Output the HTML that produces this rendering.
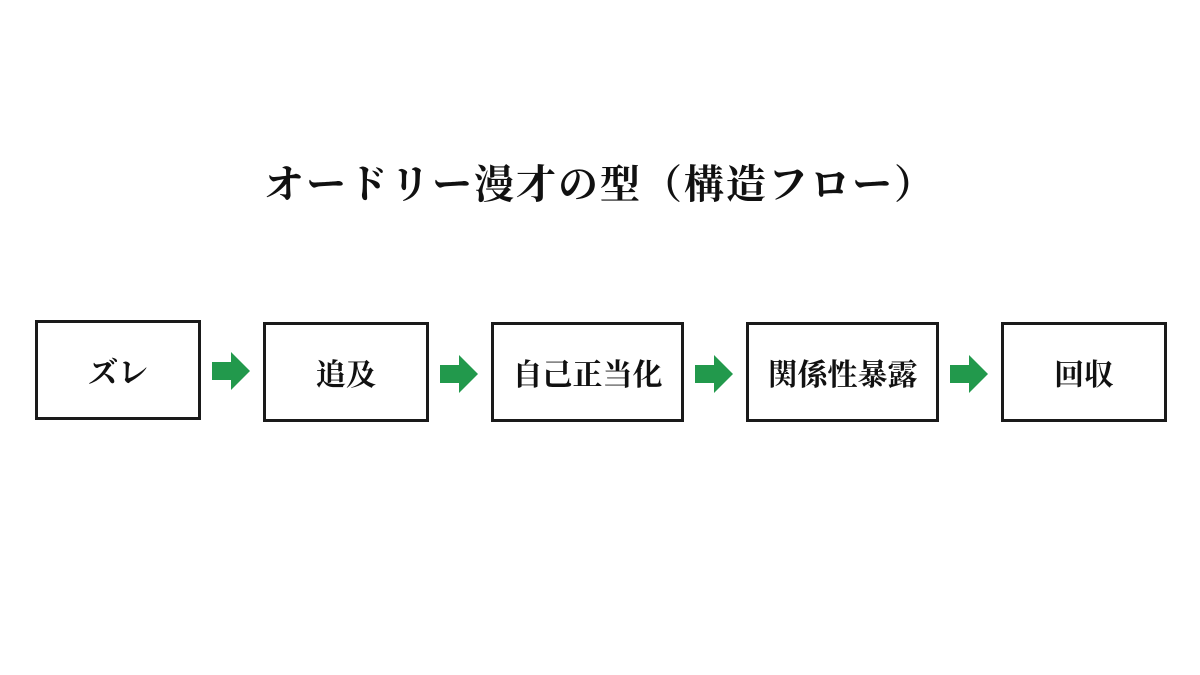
<!DOCTYPE html>
<html><head><meta charset="utf-8"><style>
body{margin:0;width:1200px;height:675px;background:#fff;position:relative;overflow:hidden;font-family:"Liberation Serif","Noto Serif CJK SC","Noto Sans CJK JP",serif;}
.t{position:absolute;left:264px;top:153px;font-size:40px;font-weight:bold;color:#111;white-space:nowrap;letter-spacing:2px}
.b{position:absolute;box-sizing:border-box;border:3px solid #1a1a1a;display:flex;align-items:center;justify-content:center;font-size:30px;font-weight:bold;color:#111;height:100px}
svg{position:absolute}
</style></head><body>
<div class="t">オードリー漫才の型（構造フロー）</div>
<div class="b" style="left:35px;top:320px;width:166px">ズレ</div>
<div class="b" style="left:263px;top:322px;width:166px">追及</div>
<div class="b" style="left:491px;top:322px;width:193px">自己正当化</div>
<div class="b" style="left:746px;top:322px;width:193px">関係性暴露</div>
<div class="b" style="left:1001px;top:322px;width:166px">回収</div>
<svg width="1200" height="675" style="left:0;top:0">
<g fill="#22994c">
<polygon points="212,362 231,362 231,352 250,371 231,390 231,380 212,380"/>
<polygon points="440,365 459,365 459,355 478,374 459,393 459,383 440,383"/>
<polygon points="695,365 714,365 714,355 733,374 714,393 714,383 695,383"/>
<polygon points="950,365 969,365 969,355 988,374 969,393 969,383 950,383"/>
</g></svg>
</body></html>
